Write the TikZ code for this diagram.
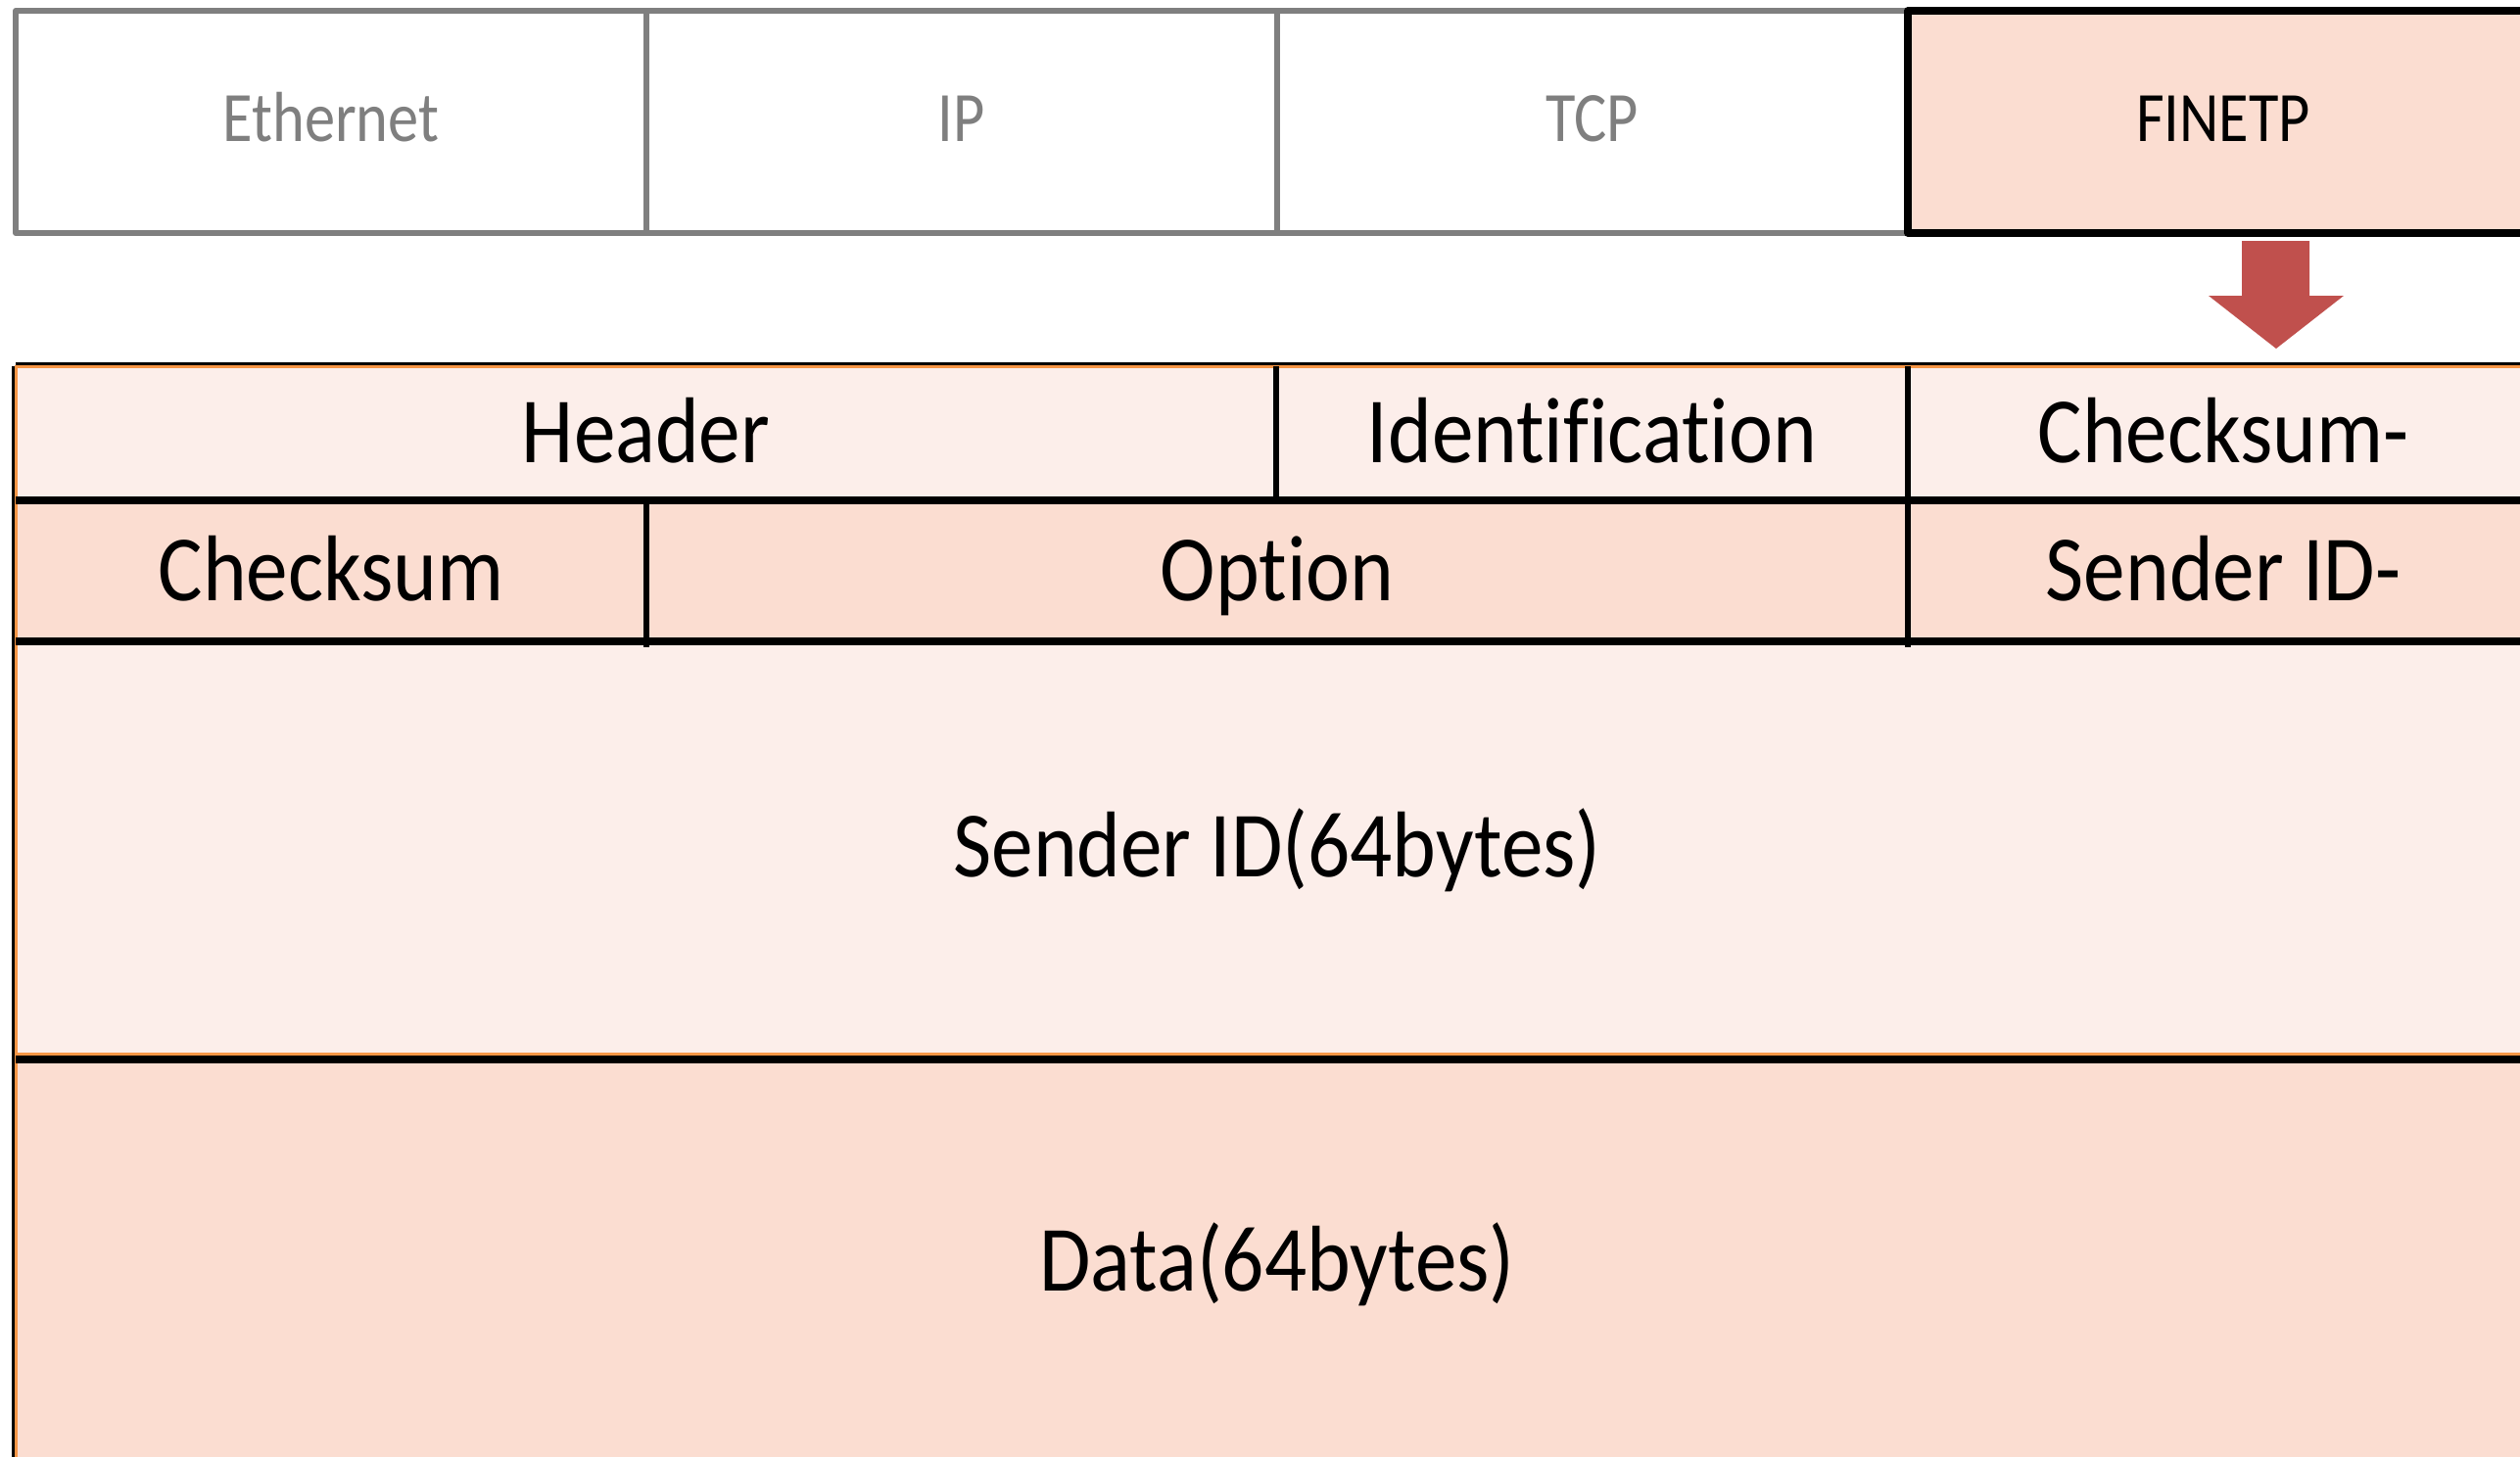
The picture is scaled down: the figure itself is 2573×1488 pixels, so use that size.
\documentclass[tikz,border=0pt]{standalone}
\usepackage{fontspec}
\setmainfont{Carlito}[Ligatures=NoCommon]
\usepackage{graphicx}
\definecolor{grayline}{HTML}{7F7F7F}
\definecolor{lightrow}{HTML}{FCEEEA}
\definecolor{darkrow}{HTML}{FBDDD1}
\definecolor{orangeline}{HTML}{F79646}
\definecolor{arrowred}{HTML}{C0504D}
\newcommand\ystr[2]{\scalebox{1}[#1]{#2}}
\begin{document}
\begin{tikzpicture}[x=0.25pt,y=-0.25pt,
  layerbox/.style={draw=grayline, line width=1.5pt, fill=white, line join=round,
    minimum width=161pt, minimum height=56.75pt, inner sep=0pt, outer sep=0pt,
    text=grayline, font=\fontsize{15.6}{18}\selectfont, text height=10pt, text depth=0pt},
  mainbox/.style={layerbox, draw=black, line width=1.9pt, fill=darkrow, text=black},
  cell/.style={draw=orangeline, line width=0.75pt, inner sep=0pt, outer sep=0pt,
    font=\fontsize{21.3}{25}\selectfont, text height=15.1pt, text depth=0pt},
  lightcell/.style={cell, fill=lightrow},
  darkcell/.style={cell, fill=darkrow},
  sepline/.style={draw=black, line width=2pt},
  divline/.style={draw=black, line width=1.6pt},
  edgeline/.style={draw=black, line width=0.75pt}]
\useasboundingbox (0,0) rectangle (2573,1488);
\clip (0,0) rectangle (2573,1488);
% protocol stack
\node[layerbox] (eth) at (338,124.5) {\ystr{1.16}{Ethernet}};
\node[layerbox] (ip)  at (981.5,124.5) {\ystr{1.16}{IP}};
\node[layerbox] (tcp) at (1625.5,124.5) {\ystr{1.16}{TCP}};
\node[mainbox]  (fin) at (2270,124.5) {\ystr{1.16}{FINETP}};
% arrow
\fill[arrowred] (2289,246) -- (2358,246) -- (2358,302) -- (2393,302) -- (2324,356)
  -- (2255,302) -- (2289,302) -- cycle;
% packet format
\node[lightcell, minimum width=321.75pt, minimum height=34.25pt] (hdr) at (659.5,442.5) {\ystr{1.12}{Header}};
\node[lightcell, minimum width=161.25pt, minimum height=34.25pt] (idn) at (1625.5,442.5) {\ystr{1.12}{Identification}};
\node[lightcell, minimum width=161pt, minimum height=34.25pt] (ck1) at (2270,442.5) {\ystr{1.12}{Checksum-}};
\node[darkcell, minimum width=161pt, minimum height=36pt] (cks) at (338,583) {\ystr{1.12}{Checksum}};
\node[darkcell, minimum width=322pt, minimum height=36pt] (opt) at (1304,583) {\ystr{1.12}{Option}};
\node[darkcell, minimum width=161pt, minimum height=36pt] (sid) at (2270,583) {\ystr{1.12}{Sender ID-}};
\node[lightcell, minimum width=644pt, minimum height=105.25pt] (snd) at (1304,865.5) {\ystr{1.12}{Sender ID(64bytes)}};
\node[darkcell, minimum width=644pt, minimum height=106pt] (dat) at (1304,1288) {\ystr{1.12}{Data(64bytes)}};
% black rules
\draw[edgeline] ([yshift=0.75pt]hdr.north west) -- ([yshift=0.75pt]ck1.north east);
\draw[edgeline] ([xshift=-0.75pt]hdr.north west) -- ([xshift=-0.75pt]dat.south west);
\draw[sepline] (hdr.south west) -- (ck1.south east);
\draw[sepline] (cks.south west) -- (sid.south east);
\draw[sepline] ([yshift=-1.4pt]snd.south west) -- ([yshift=-1.4pt]snd.south east);
\draw[divline] (hdr.north east) -- (hdr.south east);
\draw[divline] (idn.north east) -- (idn.south east);
\draw[divline] ([yshift=-1pt]cks.north east) -- ([yshift=-1.5pt]cks.south east);
\draw[divline] ([yshift=-1pt]opt.north east) -- ([yshift=-1.5pt]opt.south east);
\end{tikzpicture}
\end{document}
